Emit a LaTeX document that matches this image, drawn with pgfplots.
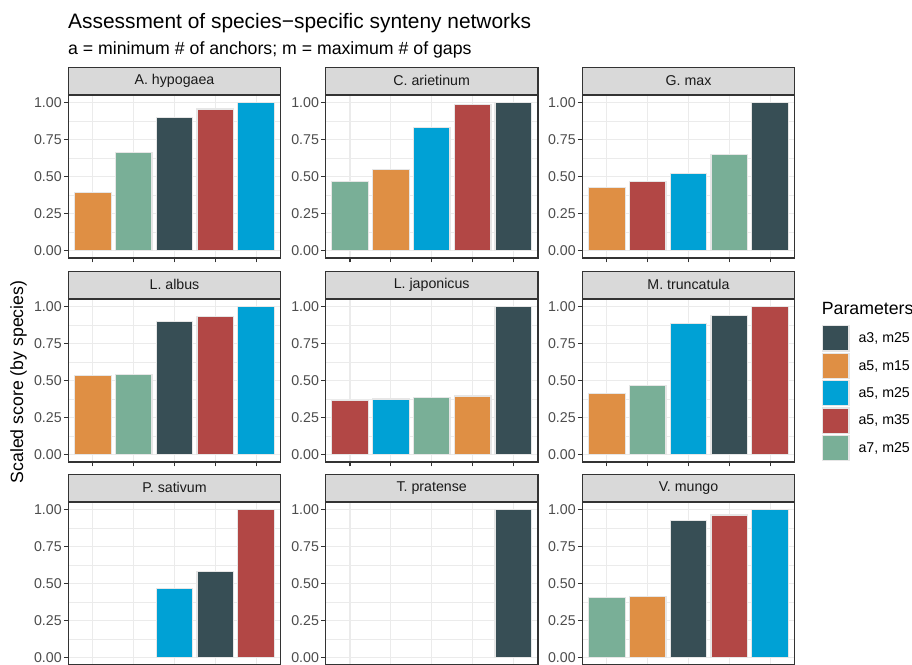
\documentclass[border=0pt]{standalone}
\usepackage{fontspec}
\setmainfont{Liberation Sans}
\usepackage{pgfplots}
\pgfplotsset{compat=1.18}

% JAMA-style palette for the parameter sets
\definecolor{c1}{HTML}{374E55} % a3, m25
\definecolor{c2}{HTML}{DF8F44} % a5, m15
\definecolor{c3}{HTML}{00A1D5} % a5, m25
\definecolor{c4}{HTML}{B24745} % a5, m35
\definecolor{c5}{HTML}{79AF97} % a7, m25
\definecolor{gridc}{HTML}{EBEBEB}
\definecolor{axc}{HTML}{333333}
\definecolor{tickc}{HTML}{4D4D4D}
\definecolor{stripc}{HTML}{D9D9D9}
\definecolor{stript}{HTML}{1A1A1A}
\definecolor{barline}{HTML}{E6E6E6}

\newcommand\tickfont{\fontsize{14.2}{16}\selectfont}
\newcommand\titlefont{\fontsize{20.9}{24}\selectfont}
\newcommand\subfont{\fontsize{17.7}{20}\selectfont}

\pgfplotsset{
  panel/.style={
    scale only axis, width=212.4pt, height=163pt,
    xmin=0.4, xmax=5.6, ymin=-0.05, ymax=1.05,
    xtick={1,2,3,4,5}, xticklabels={},
    ytick={0,0.25,0.5,0.75,1}, yticklabels={0.00,0.25,0.50,0.75,1.00},
    minor ytick={0.125,0.375,0.625,0.875},
    grid=both,
    major grid style={draw=gridc, line width=1.1pt},
    minor grid style={draw=gridc, line width=0.55pt},
    tick align=outside, tick pos=left,
    major tick length=4.4pt, minor tick length=0pt,
    every tick/.style={draw=axc, line width=1.1pt},
    axis line style={draw=axc, line width=1.3pt},
    yticklabel style={font=\tickfont, text=tickc, inner sep=2pt},
    every axis title shift=0pt,
    title style={at={(0.5,1)}, anchor=south, yshift=0pt,
      minimum width=212.4pt, minimum height=27pt, inner sep=0pt,
      fill=stripc, draw=axc, line width=1.3pt, font=\tickfont, text=stript},
  },
  col/.style={ybar, bar shift=0pt, bar width=0.9, fill=#1, draw=barline, line width=1.2pt},
  legkey/.style={legend image code/.code={%
    \path[fill=#1, draw=barline, line width=1.2pt] (0pt,-12.6pt) rectangle (26.6pt,12.6pt);}},
}

\begin{document}
\begin{tikzpicture}
\useasboundingbox (0pt,0pt) rectangle (912pt,-664pt);

\node[anchor=base west, inner sep=0pt, font=\titlefont] at (68pt,-28.5pt)
  {Assessment of species−specific synteny networks};
\node[anchor=base west, inner sep=0pt, font=\subfont] at (68pt,-54.3pt)
  {a = minimum \# of anchors; m = maximum \# of gaps};
\node[rotate=90, inner sep=0pt, font=\subfont] at (18.5pt,-382pt)
  {Scaled score (by species)};

% ---- row 1 ----
\begin{axis}[panel, at={(68.3pt,-95pt)}, anchor=north west, title={A. hypogaea}]
  \addplot[col=c2] coordinates {(1,0.393)};
  \addplot[col=c5] coordinates {(2,0.66)};
  \addplot[col=c1] coordinates {(3,0.896)};
  \addplot[col=c4] coordinates {(4,0.955)};
  \addplot[col=c3] coordinates {(5,1.00)};
\end{axis}
\begin{axis}[panel, at={(325.5pt,-95pt)}, anchor=north west, title={C. arietinum}]
  \addplot[col=c5] coordinates {(1,0.465)};
  \addplot[col=c2] coordinates {(2,0.545)};
  \addplot[col=c3] coordinates {(3,0.83)};
  \addplot[col=c4] coordinates {(4,0.987)};
  \addplot[col=c1] coordinates {(5,1.00)};
\end{axis}
\begin{axis}[panel, at={(582.3pt,-95pt)}, anchor=north west, title={G. max}]
  \addplot[col=c2] coordinates {(1,0.425)};
  \addplot[col=c4] coordinates {(2,0.465)};
  \addplot[col=c3] coordinates {(3,0.52)};
  \addplot[col=c5] coordinates {(4,0.647)};
  \addplot[col=c1] coordinates {(5,1.00)};
\end{axis}

% ---- row 2 ----
\begin{axis}[panel, at={(68.3pt,-299pt)}, anchor=north west, title={L. albus}]
  \addplot[col=c2] coordinates {(1,0.532)};
  \addplot[col=c5] coordinates {(2,0.541)};
  \addplot[col=c1] coordinates {(3,0.90)};
  \addplot[col=c4] coordinates {(4,0.93)};
  \addplot[col=c3] coordinates {(5,1.00)};
\end{axis}
\begin{axis}[panel, at={(325.5pt,-299pt)}, anchor=north west, title={L. japonicus}]
  \addplot[col=c4] coordinates {(1,0.364)};
  \addplot[col=c3] coordinates {(2,0.375)};
  \addplot[col=c5] coordinates {(3,0.384)};
  \addplot[col=c2] coordinates {(4,0.396)};
  \addplot[col=c1] coordinates {(5,1.00)};
\end{axis}
\begin{axis}[panel, at={(582.3pt,-299pt)}, anchor=north west, title={M. truncatula},
  legend style={at={(axis description cs:1.1266,0.84)}, anchor=north west,
    draw=none, fill=none, inner sep=0pt, row sep=1pt, column sep=5pt, font=\tickfont,
    nodes={inner xsep=4pt}},
  legend cell align=left]
  \addlegendimage{legkey=c1}\addlegendentry{a3, m25}
  \addlegendimage{legkey=c2}\addlegendentry{a5, m15}
  \addlegendimage{legkey=c3}\addlegendentry{a5, m25}
  \addlegendimage{legkey=c4}\addlegendentry{a5, m35}
  \addlegendimage{legkey=c5}\addlegendentry{a7, m25}
  \addplot[col=c2, forget plot] coordinates {(1,0.41)};
  \addplot[col=c5, forget plot] coordinates {(2,0.467)};
  \addplot[col=c3, forget plot] coordinates {(3,0.885)};
  \addplot[col=c1, forget plot] coordinates {(4,0.94)};
  \addplot[col=c4, forget plot] coordinates {(5,1.00)};
\end{axis}

% ---- row 3 ----
\begin{axis}[panel, at={(68.3pt,-502pt)}, anchor=north west, title={P. sativum}]
  \addplot[col=c3] coordinates {(3,0.467)};
  \addplot[col=c1] coordinates {(4,0.58)};
  \addplot[col=c4] coordinates {(5,1.00)};
\end{axis}
\begin{axis}[panel, at={(325.5pt,-502pt)}, anchor=north west, title={T. pratense}]
  \addplot[col=c1] coordinates {(5,1.00)};
\end{axis}
\begin{axis}[panel, at={(582.3pt,-502pt)}, anchor=north west, title={V. mungo}]
  \addplot[col=c5] coordinates {(1,0.406)};
  \addplot[col=c2] coordinates {(2,0.413)};
  \addplot[col=c1] coordinates {(3,0.923)};
  \addplot[col=c4] coordinates {(4,0.962)};
  \addplot[col=c3] coordinates {(5,1.00)};
\end{axis}

\node[anchor=west, inner sep=0pt, font=\subfont] at (821.7pt,-308pt) {Parameters};
\end{tikzpicture}
\end{document}
